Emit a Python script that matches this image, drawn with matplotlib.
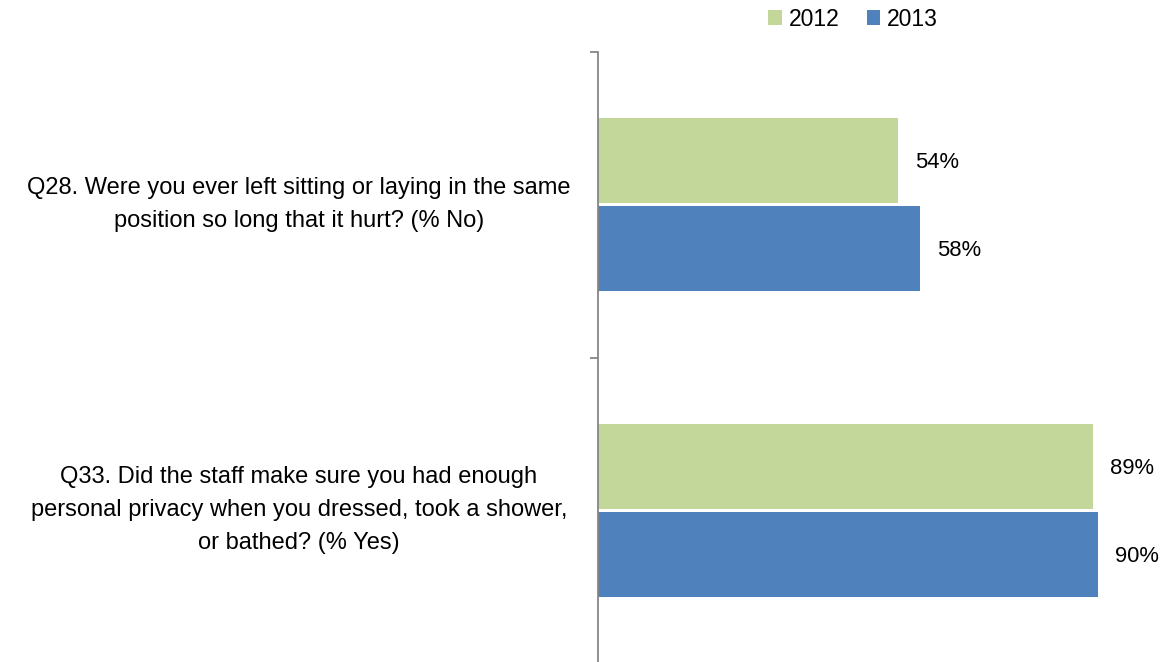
import matplotlib
matplotlib.use("Agg")
import matplotlib.pyplot as plt
import numpy as np

categories = [
    "Q28. Were you ever left sitting or laying in the same\nposition so long that it hurt? (% No)",
    "Q33. Did the staff make sure you had enough\npersonal privacy when you dressed, took a shower,\nor bathed? (% Yes)",
]
series_names = ["2012", "2013"]
values_2012 = [54, 89]
values_2013 = [58, 90]
colors = ["#C4D79B", "#4F81BD"]

plt.rcParams['font.family'] = ['Liberation Sans', 'DejaVu Sans']

W, H = 1169, 662
fig = plt.figure(figsize=(W / 100, H / 100), dpi=100)
ax = fig.add_axes([598 / W, -1 / H, 556 / W, 1 - 51 / H])

n = len(categories)
ypos = np.arange(n)[::-1]  # first category on top
bh = 85 / 305
off = 44 / 305

for vals, name, col, sign in [(values_2012, series_names[0], colors[0], 1),
                              (values_2013, series_names[1], colors[1], -1)]:
    ax.barh(ypos + sign * off, vals, height=bh, color=col, label=name)
    for y, v in zip(ypos, vals):
        ax.annotate(f"{v}%", xy=(v, y + sign * off), xytext=(17, -2),
                    textcoords="offset pixels", va="center", ha="left",
                    fontsize=15.8, color="#000000")

ax.set_xlim(0, 100)
ax.set_ylim(-0.5, n - 0.5)
ax.set_xticks([])
ax.set_yticks(np.arange(-0.5, n, 1.0))
ax.set_yticklabels([])
for s in ["top", "right", "bottom"]:
    ax.spines[s].set_visible(False)
ax.spines["left"].set_color("#868686")
ax.spines["left"].set_linewidth(1.3)
ax.tick_params(axis="y", length=5.8, width=1.3, color="#868686", direction="out")

# category labels, centered in left area
for y, lab in zip(ypos, categories):
    fig.text(299 / W, ax.transData.transform((0, y))[1] / H, lab,
             fontsize=17, ha="center", va="center", linespacing=1.66)

fig.legend(ncol=2, loc="center", bbox_to_anchor=(853 / W, 1 - 19 / H),
           frameon=False, handlelength=0.6, handleheight=0.6,
           columnspacing=1.2, handletextpad=0.3, fontsize=16.5)

fig.savefig("out.png", dpi=100)
